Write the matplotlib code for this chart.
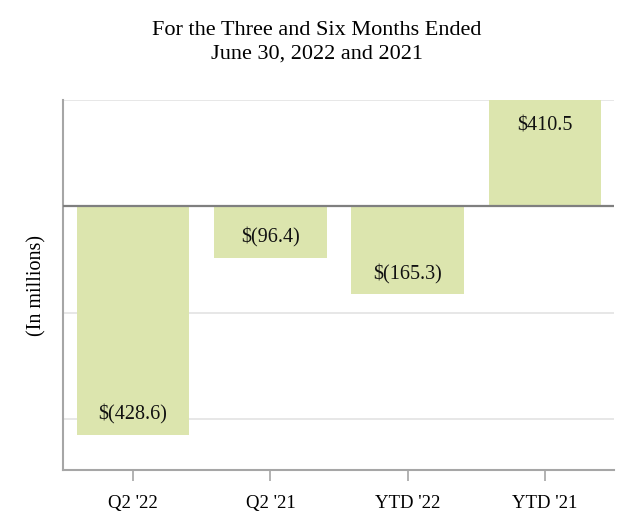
import matplotlib
matplotlib.use("Agg")

import matplotlib.pyplot as plt

# Net income (loss), in millions
categories = ["Q2 '22", "Q2 '21", "YTD '22", "YTD '21"]
values = [-428.6, -96.4, -165.3, 410.5]
bar_labels = ["$(428.6)", "$(96.4)", "$(165.3)", "$410.5"]
grid_levels = [200, 0, -200, -400]

BAR_COLOR = "#dce5ae"
Y_MIN, Y_MAX = -495, 200
LABEL_INSET = 38  # data units inside the bar end

plt.rcParams["font.family"] = ["Liberation Serif", "DejaVu Serif"]

fig = plt.figure(figsize=(6.34, 5.32), dpi=100)
ax = fig.add_axes([0.0994, 0.1165, 0.8686, 0.6955])

x = list(range(len(categories)))
ax.bar(x, values, width=0.82, color=BAR_COLOR, zorder=2)

for g in grid_levels:
    if g == 0:
        ax.axhline(g, color="#7f7f7f", lw=1.6, zorder=3)
    else:
        ax.axhline(g, color="#e3e3e3", lw=1.2, zorder=1)

for xi, v, lab in zip(x, values, bar_labels):
    end = max(min(v, Y_MAX), Y_MIN)
    ypos = end - 1.3 * LABEL_INSET if v > 0 else end + LABEL_INSET
    ax.text(xi, ypos, lab, ha="center", va="center", fontsize=14.5,
            color="#111111", zorder=4)

ax.set_xlim(-0.51, 3.5)
ax.set_ylim(Y_MIN, Y_MAX)
ax.set_xticks(x)
ax.set_xticklabels(categories, fontsize=13.5)
ax.set_yticks([])
ax.tick_params(axis="x", length=8, width=1.2, color="#a6a6a6", pad=10)

for side in ("top", "right"):
    ax.spines[side].set_visible(False)
for side in ("left", "bottom"):
    ax.spines[side].set_color("#a6a6a6")
    ax.spines[side].set_linewidth(1.5)

ax.set_ylabel("(In millions)", fontsize=14.5, labelpad=12)

fig.text(0.5, 0.921, "For the Three and Six Months Ended\nJune 30, 2022 and 2021",
         ha="center", va="center", fontsize=16, linespacing=1.32)

fig.savefig("out.png", dpi=100)
